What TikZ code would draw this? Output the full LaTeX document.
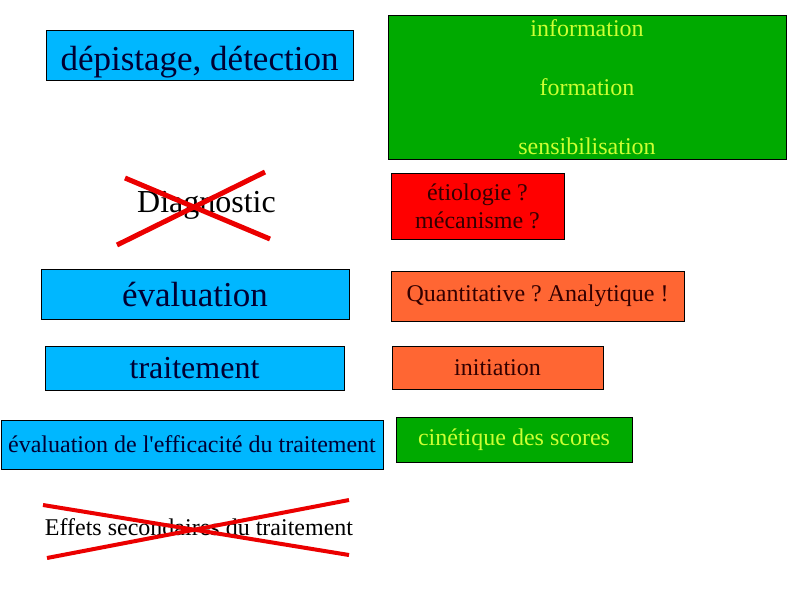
\documentclass[tikz,border=0pt]{standalone}
\usepackage{fontspec}
\setmainfont{Liberation Serif}
\usepackage{tikz}
\frenchspacing

\definecolor{boxblue}{RGB}{0,183,255}
\definecolor{boxgreen}{RGB}{0,170,0}
\definecolor{boxred}{RGB}{255,0,0}
\definecolor{boxorange}{RGB}{255,102,51}
\definecolor{navytext}{RGB}{0,0,51}
\definecolor{limetext}{RGB}{204,255,51}
\definecolor{darktext}{RGB}{51,0,0}
\definecolor{crossred}{RGB}{235,0,0}

\begin{document}
\begin{tikzpicture}[
    x=1pt,
    y=-1pt,
    box/.style={draw=black, line width=0.8pt, fill=#1, inner sep=0pt},
    bluebox/.style={box=boxblue, text=navytext},
    greenbox/.style={box=boxgreen, text=limetext},
    redbox/.style={box=boxred, text=darktext},
    orangebox/.style={box=boxorange, text=darktext},
    xline/.style={draw=crossred, line width=#1},
    big/.style={font=\fontsize{35}{40}\selectfont},
    mid/.style={font=\fontsize{32}{38}\selectfont},
    small/.style={font=\fontsize{24}{28}\selectfont},
  ]
  \useasboundingbox (0,0) rectangle (794,595);

  % === Left column ===
  \node[bluebox, big, minimum width=307, minimum height=50, text height=34, text depth=4]
    (depist) at (199.5,55) {dépistage, détection};

  \node[mid, text=black, inner sep=0pt] (diag) at (206.5,205) {Diagnostic};

  \node[bluebox, big, minimum width=308, minimum height=50] (eval) at (195,294) {évaluation};

  \node[bluebox, mid, minimum width=299, minimum height=44] (trait) at (194.5,368) {traitement};

  \node[bluebox, small, minimum width=382, minimum height=49] (effic) at (192,444.5)
    {évaluation de l\textquotesingle efficacité du traitement};

  \node[small, text=black, inner sep=0pt] (effets) at (199,527) {Effets secondaires du traitement};

  % === Right column ===
  \node[greenbox, align=center, minimum width=398, minimum height=144,
        font=\fontsize{24}{58.7}\selectfont] (info) at (587,87)
    {information\\formation\\sensibilisation};

  \node[redbox, small, align=center, minimum width=173, minimum height=66] (etio) at (477.5,206)
    {étiologie ?\\mécanisme ?};

  \node[orangebox, small, minimum width=293, minimum height=50] (quant) at (537.5,296) {Quantitative ? Analytique !};

  \node[orangebox, small, minimum width=211, minimum height=43] (init) at (497.5,367.5) {initiation};

  \node[greenbox, small, minimum width=236, minimum height=45] (cinet) at (514,439.5) {cinétique des scores};

  % === Crossed out items ===
  \coordinate (diagA) at (125,178);
  \coordinate (diagB) at (270,239);
  \coordinate (diagC) at (117,245);
  \coordinate (diagD) at (265,172);
  \draw[xline=5pt] (diagA) -- (diagB);
  \draw[xline=5pt] (diagC) -- (diagD);

  \coordinate (effA) at (43,505);
  \coordinate (effB) at (349,555);
  \coordinate (effC) at (47,558);
  \coordinate (effD) at (349,500);
  \draw[xline=4pt] (effA) -- (effB);
  \draw[xline=4pt] (effC) -- (effD);

\end{tikzpicture}
\end{document}
